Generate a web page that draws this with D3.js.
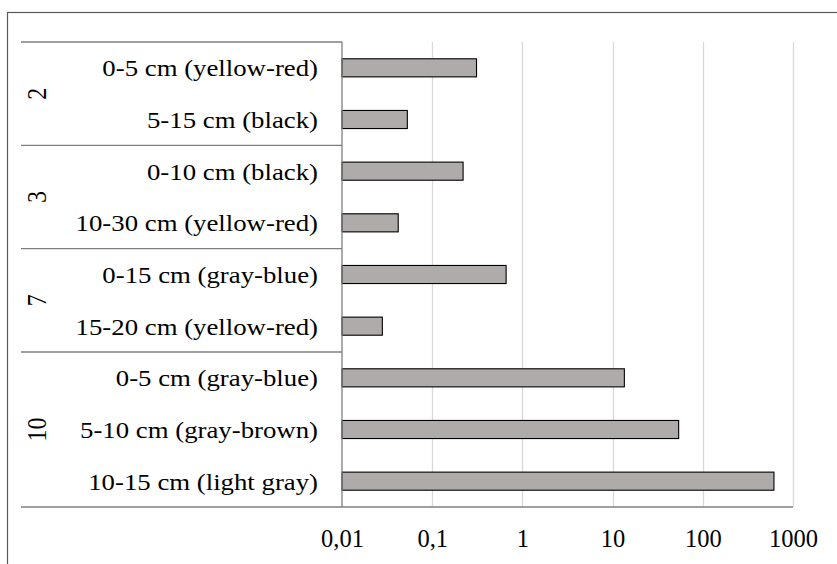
<!DOCTYPE html>
<html>
<head>
<meta charset="utf-8">
<script src="https://cdn.jsdelivr.net/npm/d3@7"></script>
<style>
  html, body { margin: 0; padding: 0; background: #fff; }
  svg { display: block; }
  text { font-family: "Liberation Serif", "Times New Roman", serif; fill: #000; }
</style>
</head>
<body>
<svg id="chart" width="837" height="564"></svg>
<script>
// Sampling sites and their soil horizons (top to bottom)
const groups = ["2", "3", "7", "10"];
const groupSizes = [2, 2, 2, 3];
const categories = [
  "0-5 cm (yellow-red)",
  "5-15 cm (black)",
  "0-10 cm (black)",
  "10-30 cm (yellow-red)",
  "0-15 cm (gray-blue)",
  "15-20 cm (yellow-red)",
  "0-5 cm (gray-blue)",
  "5-10 cm (gray-brown)",
  "10-15 cm (light gray)"
];
const values = [0.31, 0.053, 0.22, 0.042, 0.66, 0.028, 13.5, 54, 615];
const tickValues = [0.01, 0.1, 1, 10, 100, 1000];
const tickLabels = ["0,01", "0,1", "1", "10", "100", "1000"];

const svg = d3.select("#chart");
const W = 837, H = 564;
const plot = { left: 342, right: 793, top: 42, bottom: 507 };
const tableLeft = 21;

// outer chart border
svg.append("rect")
  .attr("x", 7.5).attr("y", 12.5)
  .attr("width", W).attr("height", H)
  .attr("fill", "#fff").attr("stroke", "#595959").attr("stroke-width", 1.2);

const x = d3.scaleLog().domain([0.01, 1000]).range([plot.left, plot.right]);
const y = d3.scaleBand().domain(d3.range(categories.length))
  .range([plot.top, plot.bottom]).paddingInner(0.65).paddingOuter(0.325);
const band = (plot.bottom - plot.top) / categories.length;

// vertical gridlines
svg.append("g")
  .selectAll("line")
  .data(tickValues.slice(1))
  .join("line")
  .attr("x1", d => Math.round(x(d)) + 0.5).attr("x2", d => Math.round(x(d)) + 0.5)
  .attr("y1", plot.top).attr("y2", plot.bottom)
  .attr("stroke", "#d9d9d9").attr("stroke-width", 1.3);

// bars
svg.append("g")
  .selectAll("rect")
  .data(values)
  .join("rect")
  .attr("x", x(0.01))
  .attr("y", (d, i) => y(i))
  .attr("width", d => x(d) - x(0.01))
  .attr("height", y.bandwidth())
  .attr("fill", "#afabab")
  .attr("stroke", "#000")
  .attr("stroke-width", 1.1);

// group boundary lines of the category table
const bounds = [0];
groupSizes.forEach(s => bounds.push(bounds[bounds.length - 1] + s));
svg.append("g")
  .selectAll("line")
  .data(bounds.slice(0, -1))
  .join("line")
  .attr("x1", tableLeft).attr("x2", plot.left)
  .attr("y1", b => plot.top + b * band).attr("y2", b => plot.top + b * band)
  .attr("stroke", "#7f7f7f").attr("stroke-width", 1.3);

// value axis baseline (extends under the category table)
svg.append("line")
  .attr("x1", tableLeft).attr("x2", plot.right)
  .attr("y1", plot.bottom).attr("y2", plot.bottom)
  .attr("stroke", "#7f7f7f").attr("stroke-width", 1.3);

// category axis line
svg.append("line")
  .attr("x1", plot.left).attr("x2", plot.left)
  .attr("y1", plot.top).attr("y2", plot.bottom)
  .attr("stroke", "#7f7f7f").attr("stroke-width", 1.3);

// x tick labels
const xAxis = d3.axisBottom(x).tickValues(tickValues)
  .tickFormat((d, i) => tickLabels[i]).tickSize(0).tickPadding(0);
const gx = svg.append("g").attr("transform", `translate(0,${plot.bottom})`).call(xAxis);
gx.select(".domain").remove();
gx.selectAll("text")
  .attr("y", 40).attr("dy", null)
  .style("font-family", '"Liberation Serif", "Times New Roman", serif')
  .style("font-size", "24.5px").attr("fill", "#000");

// category labels (slightly widened serif type)
svg.append("g")
  .selectAll("text")
  .data(categories)
  .join("text")
  .attr("transform", (d, i) => `translate(318,${y(i) + y.bandwidth() / 2 + 8.5}) scale(1.14,1)`)
  .attr("text-anchor", "end")
  .style("font-size", "23.5px")
  .text(d => d);

// group labels, rotated
svg.append("g")
  .selectAll("text")
  .data(groups)
  .join("text")
  .attr("transform", (g, i) => {
    const cy = plot.top + (bounds[i] + bounds[i + 1]) / 2 * band;
    return `translate(46,${cy}) rotate(-90) scale(1,1.14)`;
  })
  .attr("text-anchor", "middle")
  .style("font-size", "24px")
  .text(d => d);
</script>
</body>
</html>
